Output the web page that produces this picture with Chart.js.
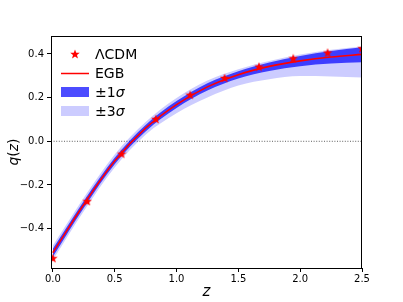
<!DOCTYPE html>
<html>
<head>
<meta charset="utf-8">
<script src="https://cdn.jsdelivr.net/npm/chart.js@4/dist/chart.umd.min.js"></script>
<style>
  html, body { margin: 0; padding: 0; background: #fff; }
  #wrap { width: 403px; height: 302px; }
</style>
</head>
<body>
<div id="wrap"><canvas id="chart" width="403" height="302"></canvas></div>
<script>
// redshift grid for EGB curve and bands
const zGrid = [0, 0.25, 0.5, 0.75, 1.0, 1.25, 1.5, 1.75, 2.0, 2.25, 2.5]
const egbQ = [-0.510, -0.289, -0.090, 0.060, 0.168, 0.249, 0.305, 0.343, 0.368, 0.386, 0.398]
const sigma1Lo = [-0.528, -0.305, -0.105, 0.045, 0.152, 0.232, 0.287, 0.322, 0.344, 0.356, 0.362]
const sigma1Hi = [-0.492, -0.273, -0.075, 0.075, 0.184, 0.266, 0.321, 0.361, 0.390, 0.413, 0.430]
const sigma3Lo = [-0.543, -0.320, -0.120, 0.030, 0.128, 0.200, 0.255, 0.284, 0.299, 0.297, 0.292]
const sigma3Hi = [-0.477, -0.258, -0.060, 0.088, 0.198, 0.278, 0.330, 0.368, 0.397, 0.419, 0.434]

// LambdaCDM points
const zLcdm = [0, 0.278, 0.556, 0.833, 1.111, 1.389, 1.667, 1.944, 2.222, 2.5]
const qLcdm = [-0.535, -0.274, -0.057, 0.102, 0.213, 0.290, 0.342, 0.380, 0.406, 0.426]

const xTicks = [0, 0.5, 1.0, 1.5, 2.0, 2.5]
const yTicks = [-0.4, -0.2, 0.0, 0.2, 0.4]
const xRange = [-0.015, 2.5]
const yRange = [-0.58, 0.482]

const RED = '#ff0000'
const BLUE1 = 'rgba(0, 0, 255, 0.7)'
const BLUE3 = 'rgba(0, 0, 255, 0.2)'
const TICK_FONT = { family: 'DejaVu Sans', size: 10 }

const pts = (xs, ys) => xs.map((x, i) => ({ x: x, y: ys[i] }))
const fmt = v => (v < 0 ? '\u2212' : '') + Math.abs(v).toFixed(1)

// filled 5 point star like matplotlib '*'
function starImage(size, color) {
  const c = document.createElement('canvas')
  c.width = size
  c.height = size
  const g = c.getContext('2d')
  const R = size / 2, r = R * 0.42
  g.beginPath()
  for (let i = 0; i < 10; i++) {
    const rad = i % 2 === 0 ? R : r
    const a = -Math.PI / 2 + i * Math.PI / 5
    const px = R + rad * Math.cos(a), py = R + rad * Math.sin(a) + 0.4
    i === 0 ? g.moveTo(px, py) : g.lineTo(px, py)
  }
  g.closePath()
  g.fillStyle = color
  g.fill()
  return c
}
const star = starImage(10, RED)

const Decor = {
  id: 'decor',
  afterDatasetsDraw(chart) {
    const ctx = chart.ctx
    const a = chart.chartArea
    ctx.save()
    // spines
    ctx.strokeStyle = '#000'
    ctx.lineWidth = 1
    ctx.strokeRect(Math.round(a.left) + 0.5, Math.round(a.top) + 0.5,
      Math.round(a.right - a.left) - 1, Math.round(a.bottom - a.top))

    // legend
    ctx.fillStyle = '#000'
    ctx.textBaseline = 'middle'
    ctx.textAlign = 'left'
    const lx = 61, lw = 28, tx = 95
    ctx.drawImage(star, lx + lw / 2 - 5, 54 - 5)
    ctx.strokeStyle = RED
    ctx.lineWidth = 1.5
    ctx.beginPath()
    ctx.moveTo(lx, 73.5)
    ctx.lineTo(lx + lw, 73.5)
    ctx.stroke()
    ctx.fillStyle = BLUE1
    ctx.fillRect(lx, 87, lw, 10)
    ctx.fillStyle = BLUE3
    ctx.fillRect(lx, 106, lw, 10)

    ctx.fillStyle = '#000'
    ctx.font = '14px "DejaVu Sans"'
    ctx.fillText('\u039BCDM', tx, 55)
    ctx.fillText('EGB', tx, 74)
    const sig = (label, y) => {
      ctx.font = '14px "DejaVu Sans"'
      ctx.fillText(label, tx, y)
      const w = ctx.measureText(label).width
      ctx.font = 'italic 14px "DejaVu Sans"'
      ctx.fillText('\u03C3', tx + w, y)
    }
    sig('\u00B11', 93)
    sig('\u00B13', 112)

    // axis titles
    ctx.font = 'italic 15px "DejaVu Sans"'
    ctx.textAlign = 'center'
    ctx.fillText('z', (a.left + a.right) / 2, 292)
    ctx.translate(14, (a.top + a.bottom) / 2)
    ctx.rotate(-Math.PI / 2)
    ctx.font = 'italic 14px "DejaVu Sans"'
    const wq = ctx.measureText('q').width, wz = ctx.measureText('z').width
    ctx.font = '14px "DejaVu Sans"'
    const wp = ctx.measureText('(').width
    const total = wq + wz + 2 * wp
    let x0 = -total / 2
    ctx.textAlign = 'left'
    ctx.font = 'italic 14px "DejaVu Sans"'
    ctx.fillText('q', x0, 0)
    x0 += wq
    ctx.font = '14px "DejaVu Sans"'
    ctx.fillText('(', x0, 0)
    x0 += wp
    ctx.font = 'italic 14px "DejaVu Sans"'
    ctx.fillText('z', x0, 0)
    x0 += wz
    ctx.font = '14px "DejaVu Sans"'
    ctx.fillText(')', x0, 0)
    ctx.restore()
  }
}

const bandStyle = { pointRadius: 0, borderWidth: 0, cubicInterpolationMode: 'monotone' }

new Chart(document.getElementById('chart'), {
  type: 'line',
  data: {
    datasets: [
      { label: 'LCDM', data: pts(zLcdm, qLcdm), showLine: false, pointStyle: star,
        pointRadius: 5, order: 0 },
      { label: 'EGB', data: pts(zGrid, egbQ), borderColor: RED, borderWidth: 1.6,
        pointRadius: 0, cubicInterpolationMode: 'monotone', fill: false, order: 1 },
      { label: 's1lo', data: pts(zGrid, sigma1Lo), ...bandStyle, fill: false, order: 2 },
      { label: 's1hi', data: pts(zGrid, sigma1Hi), ...bandStyle, fill: '-1',
        backgroundColor: BLUE1, order: 2 },
      { label: 's3lo', data: pts(zGrid, sigma3Lo), ...bandStyle, fill: false, order: 3 },
      { label: 's3hi', data: pts(zGrid, sigma3Hi), ...bandStyle, fill: '-1',
        backgroundColor: BLUE3, order: 3 },
      { label: 'zero', data: pts(xRange, [0, 0]), borderColor: '#333', borderWidth: 0.8,
        borderDash: [1, 1.6], pointRadius: 0, fill: false, order: 4 }
    ]
  },
  options: {
    responsive: false,
    animation: false,
    devicePixelRatio: 1,
    layout: { padding: { top: 36, right: 41, left: 0, bottom: 0 } },
    plugins: { legend: { display: false }, tooltip: { enabled: false } },
    scales: {
      x: {
        type: 'linear', min: xRange[0], max: xRange[1],
        afterBuildTicks: s => { s.ticks = xTicks.map(v => ({ value: v })) },
        afterFit: s => { s.height = 34 },
        ticks: { callback: v => fmt(v), font: TICK_FONT, color: '#000', padding: 1, maxRotation: 0 },
        grid: { drawOnChartArea: false, drawTicks: true, tickLength: 4, color: '#000' },
        border: { display: false }
      },
      y: {
        type: 'linear', min: yRange[0], max: yRange[1],
        afterBuildTicks: s => { s.ticks = yTicks.map(v => ({ value: v })) },
        afterFit: s => { s.width = 51 },
        ticks: { callback: v => fmt(v), font: TICK_FONT, color: '#000', padding: 3 },
        grid: { drawOnChartArea: false, drawTicks: true, tickLength: 4, color: '#000' },
        border: { display: false }
      }
    }
  },
  plugins: [Decor]
})
</script>
</body>
</html>
